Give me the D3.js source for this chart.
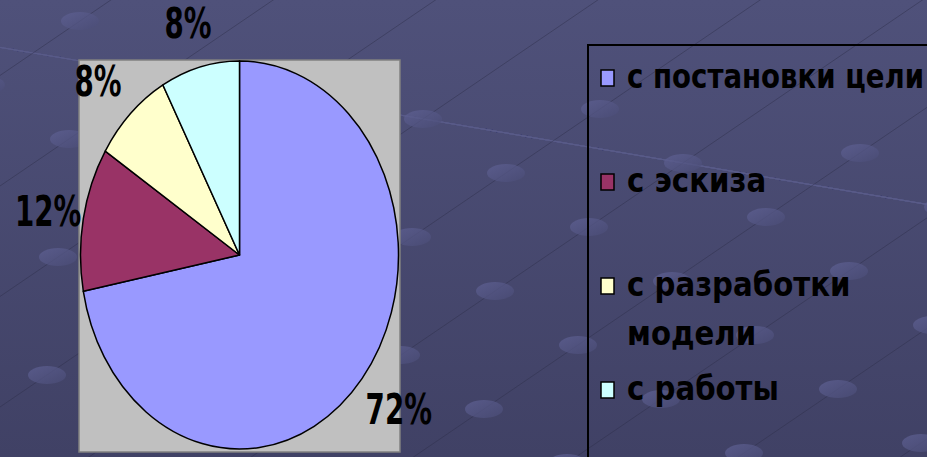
<!DOCTYPE html>
<html>
<head>
<meta charset="utf-8">
<title>Pie</title>
<script src="https://cdn.jsdelivr.net/npm/d3@7"></script>
<style>
  html, body { margin: 0; padding: 0; background: #474970; overflow: hidden; }
  svg { display: block; }
  text { font-family: "DejaVu Sans", "Liberation Sans", sans-serif; font-weight: bold; fill: #000; }
</style>
</head>
<body>
<script>
// chart data
var categories = ["с постановки цели", "с эскиза", "с разработки модели", "с работы"];
var legendLines = [["с постановки цели"], ["с эскиза"], ["с разработки", "модели"], ["с работы"]];
var values = [72, 12, 8, 8];
var labels = ["72%", "12%", "8%", "8%"];
var colors = ["#9999ff", "#993366", "#ffffcc", "#ccffff"];

var width = 927, height = 457;
var plot = {x: 79, y: 60, w: 321, h: 392};
var pieC = {x: 239.5, y: 255, rx: 159, ry: 194};

var svg = d3.select("body").append("svg")
    .attr("width", width)
    .attr("height", height);

// background
var defs = svg.append("defs");
var grad = defs.append("linearGradient")
    .attr("id", "bg").attr("x1", 0).attr("y1", 0).attr("x2", 0).attr("y2", 1);
grad.append("stop").attr("offset", "0%").attr("stop-color", "#4f517a");
grad.append("stop").attr("offset", "100%").attr("stop-color", "#404165");
var dotGrad = defs.append("linearGradient")
    .attr("id", "dot").attr("x1", 0).attr("y1", 0).attr("x2", 1).attr("y2", 1);
dotGrad.append("stop").attr("offset", "0%").attr("stop-color", "#5f6194");
dotGrad.append("stop").attr("offset", "100%").attr("stop-color", "#4a4c76");

svg.append("rect").attr("width", width).attr("height", height).attr("fill", "url(#bg)");

// decorative lattice (texture only)
var deco = svg.append("g").attr("class", "deco");
var a = [130, 22], b = [-47, 32], origin = [683, 163];
var pts = [];
for (var m = -8; m <= 4; m++) {
    for (var n = -6; n <= 12; n++) {
        var px = origin[0] + m * a[0] + n * b[0],
            py = origin[1] + m * a[1] + n * b[1];
        if (px > -40 && px < width + 40 && py > -20 && py < height + 20 &&
            !(py < 100 && px > 150) && (m + n) % 2 === 0) pts.push([px, py]);
    }
}
d3.range(-8, 5).forEach(function (m) {
    deco.append("line")
        .attr("x1", origin[0] + m * a[0] - 6 * a[0]).attr("y1", origin[1] + m * a[1] - 6 * a[1])
        .attr("x2", origin[0] + m * a[0] + 6 * a[0]).attr("y2", origin[1] + m * a[1] + 6 * a[1])
        .attr("stroke", "#5b5d8a").attr("stroke-width", 1.2).attr("opacity", 0.45);
});
d3.range(-8, 5).forEach(function (m) {
    deco.append("line")
        .attr("x1", origin[0] + m * a[0] - 8 * b[0]).attr("y1", origin[1] + m * a[1] - 8 * b[1])
        .attr("x2", origin[0] + m * a[0] + 14 * b[0]).attr("y2", origin[1] + m * a[1] + 14 * b[1])
        .attr("stroke", "#2e2f4a").attr("stroke-width", 1).attr("opacity", 0.45);
});
deco.selectAll("ellipse")
    .data(pts)
    .enter().append("ellipse")
    .attr("cx", function (d) { return d[0]; })
    .attr("cy", function (d) { return d[1]; })
    .attr("rx", 19).attr("ry", 9)
    .attr("fill", "url(#dot)")
    .attr("opacity", 0.75);

// plot area
svg.append("rect")
    .attr("x", plot.x).attr("y", plot.y)
    .attr("width", plot.w).attr("height", plot.h)
    .attr("fill", "#c0c0c0")
    .attr("stroke", "#808080")
    .attr("stroke-width", 1.5);

var color = d3.scaleOrdinal().domain(categories).range(colors);

var pie = d3.pie().sort(null).value(function (d) { return d.value; });
var data = categories.map(function (c, i) { return {name: c, value: values[i], label: labels[i]}; });
var arcs = pie(data);

var R = 100;
var arc = d3.arc().innerRadius(0).outerRadius(R);

var pieG = svg.append("g")
    .attr("transform", "translate(" + pieC.x + "," + pieC.y + ") scale(" + (pieC.rx / R) + "," + (pieC.ry / R) + ")");

pieG.selectAll("path")
    .data(arcs)
    .enter().append("path")
    .attr("d", arc)
    .attr("fill", function (d) { return color(d.data.name); })
    .attr("stroke", "#000")
    .attr("stroke-width", 1.5)
    .attr("vector-effect", "non-scaling-stroke")
    .attr("stroke-linejoin", "round");

// percentage labels (condensed by a horizontal scale)
var kx = 1.3, ky = 1.24;
var labelSize = 42, labelSqueeze = 0.66;
var lab = svg.append("g").selectAll("g")
    .data(arcs)
    .enter().append("g");

lab.append("text")
    .attr("font-size", labelSize)
    .attr("text-anchor", "middle")
    .attr("dy", "0.38em")
    .text(function (d) { return d.data.label; });

lab.each(function (d) {
    var w = d3.select(this).select("text").node().getComputedTextLength() * labelSqueeze;
    var mid = (d.startAngle + d.endAngle) / 2;
    var x = pieC.x + pieC.rx * kx * Math.sin(mid);
    var y = pieC.y - pieC.ry * ky * Math.cos(mid);
    if (x - w / 2 < 15) x = 15 + w / 2;
    d3.select(this).attr("transform", "translate(" + x + "," + y + ") scale(" + labelSqueeze + ",1)");
});

// legend
var legend = svg.append("g");
legend.append("rect")
    .attr("x", 588).attr("y", 45)
    .attr("width", 420).attr("height", 460)
    .attr("fill", "none")
    .attr("stroke", "#000")
    .attr("stroke-width", 2);

var rowY = d3.scalePoint().domain(categories).range([88, 400]);
var legendSize = 34, legendSqueeze = 0.86, textX = 627;

var rows = legend.selectAll("g.row")
    .data(categories)
    .enter().append("g")
    .attr("class", "row")
    .attr("transform", function (d) { return "translate(0," + rowY(d) + ")"; });

rows.append("rect")
    .attr("x", 601).attr("y", -18)
    .attr("width", 13).attr("height", 16)
    .attr("fill", function (d) { return color(d); })
    .attr("stroke", "#000")
    .attr("stroke-width", 1.5);

rows.each(function (d, i) {
    var g = d3.select(this);
    legendLines[i].forEach(function (line, j) {
        var lg = g.append("g");
        var t = lg.append("text")
            .attr("font-size", legendSize)
            .text(line);
        var natural = t.node().getComputedTextLength();
        var s = Math.min(legendSqueeze, (width - 3 - textX) / natural);
        lg.attr("transform", "translate(" + textX + "," + (j * 49) + ") scale(" + s + ",1)");
    });
});
</script>
</body>
</html>
